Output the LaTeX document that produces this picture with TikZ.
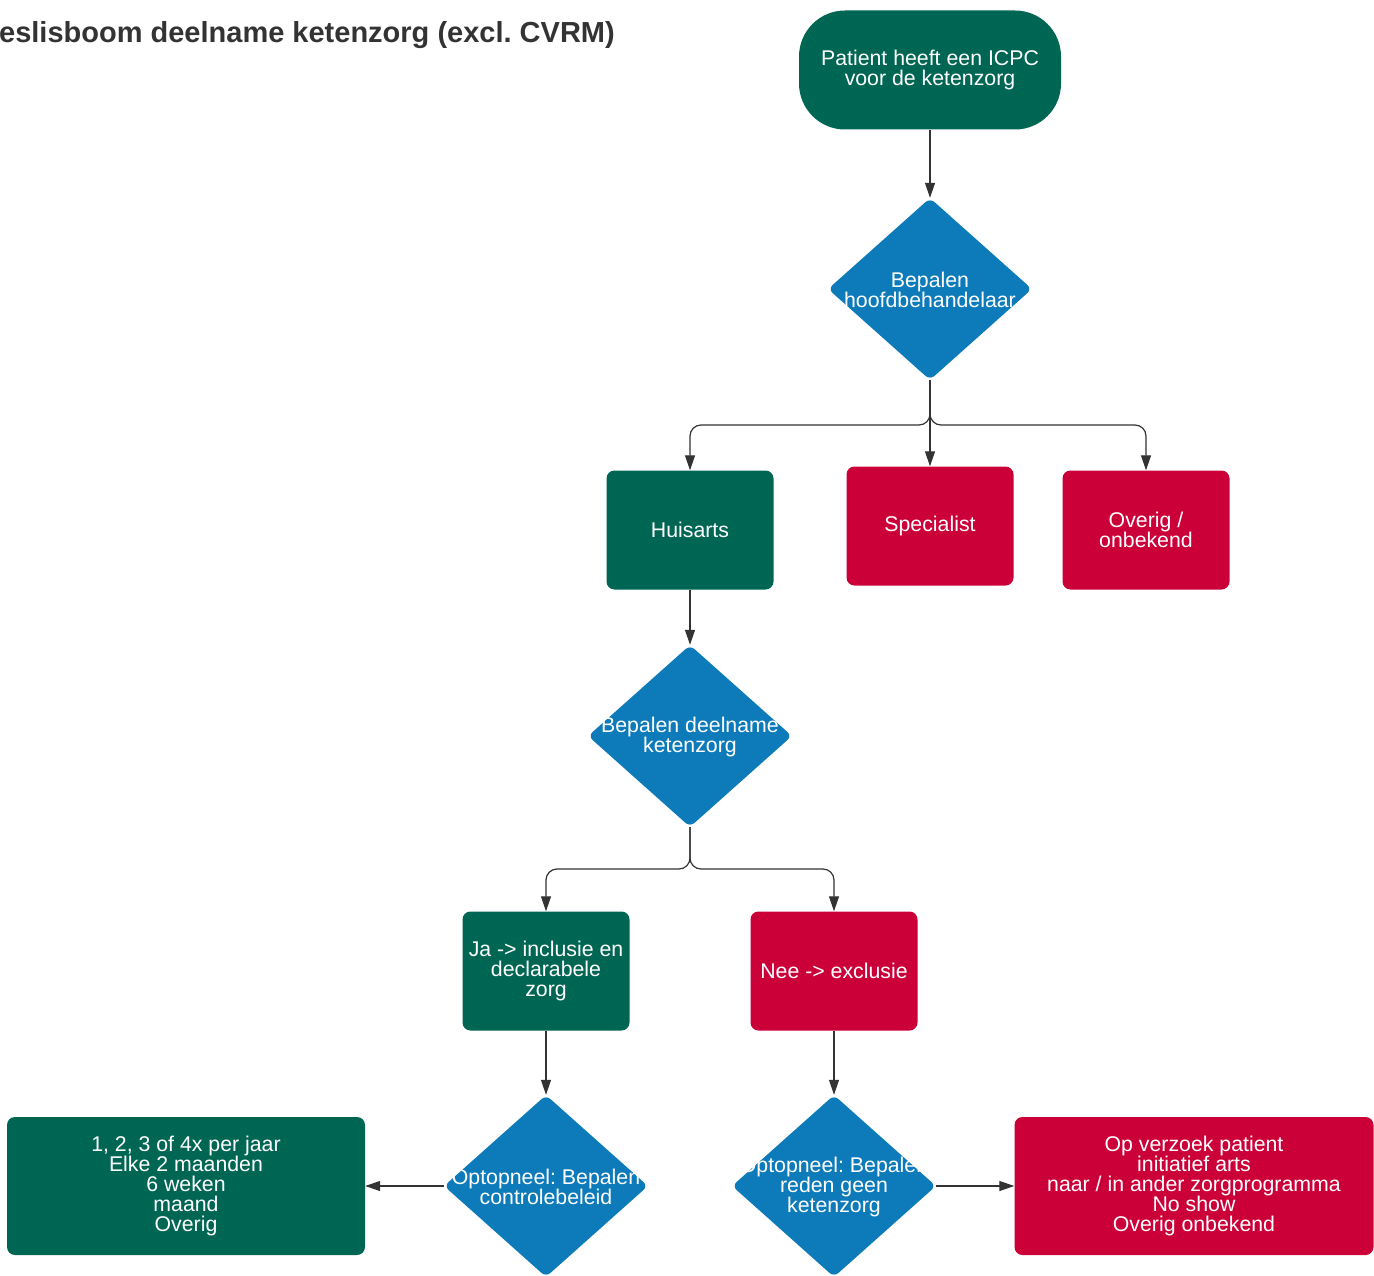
\documentclass[tikz,border=0pt]{standalone}
\usepackage{fontspec}
\setmainfont{Liberation Sans}
\usetikzlibrary{shapes.geometric,arrows.meta}
\definecolor{kgreen}{RGB}{0,102,84}
\definecolor{kred}{RGB}{204,0,56}
\definecolor{kblue}{RGB}{13,123,186}
\definecolor{kline}{RGB}{51,51,51}
\frenchspacing
\begin{document}
\begin{tikzpicture}[x=1pt,y=-1pt,
  lbl/.style={text=white, font=\fontsize{21.3}{20}\selectfont, align=center, inner sep=0pt},
  box/.style={lbl, rectangle, rounded corners=8pt, minimum width=167pt, minimum height=119pt},
  gbox/.style={box, fill=kgreen},
  rbox/.style={box, fill=kred},
  dia/.style={diamond, fill=kblue, minimum width=204pt, minimum height=182pt, inner sep=0pt, rounded corners=6pt},
  arr/.style={draw=kline, line width=1.2pt, -{Triangle[length=15pt,width=10pt]}, rounded corners=11pt}]
\useasboundingbox (0,0) rectangle (1374,1276);

% title (partly outside the page on the left, as in the reference)
\node[anchor=east, inner sep=0pt, text=kline, font=\fontsize{29}{30}\selectfont\bfseries] (title) at (615,35) {Beslisboom deelname ketenzorg (excl. CVRM)};

% start
\node[lbl, fill=kgreen, rectangle, rounded corners=46pt, minimum width=262pt, minimum height=119pt] (start) at (930,70) {Patient heeft een ICPC\\voor de ketenzorg};

% decision 1
\node[dia] (d1) at (930,289) {};
\node[lbl] (t1) at (930,290) {Bepalen\\hoofdbehandelaar};

% level 2
\node[gbox] (huis) at (690,530) {Huisarts};
\node[rbox] (spec) at (930,526) {Specialist};
\node[rbox] (over) at (1146,530) {Overig /\\onbekend};

% decision 2
\node[dia] (d2) at (690,736) {};
\node[lbl] (t2) at (690,737) {Bepalen deelname\\ketenzorg};

% level 3
\node[gbox] (ja) at (546,971) {Ja -> inclusie en\\declarabele\\zorg};
\node[rbox] (nee) at (834,971) {Nee -> exclusie};

% decisions 3 and 4
\node[dia] (d3) at (546,1186) {};
\node[lbl] (t3) at (546,1187) {Optopneel: Bepalen\\controlebeleid};
\node[dia] (d4) at (834,1186) {};
\node[lbl] (t4) at (834,1187) {Optopneel: Bepalen\\reden geen\\ketenzorg};

% end boxes
\node[gbox, minimum width=358pt, minimum height=138pt] (freq) at (186,1186) {1, 2, 3 of 4x per jaar\\Elke 2 maanden\\6 weken\\maand\\Overig};
\node[rbox, minimum width=359pt, minimum height=138pt] (reden) at (1194,1186) {Op verzoek patient\\initiatief arts\\naar / in ander zorgprogramma\\No show\\Overig onbekend};

% connectors
\coordinate (b1) at (930,425);
\coordinate (b2) at (690,869);

\draw[arr] (start.south) -- (d1.north);
\draw[arr] (d1.south) -- (b1) -| (huis.north);
\draw[arr] (d1.south) -- (spec.north);
\draw[arr] (d1.south) -- (b1) -| (over.north);
\draw[arr] (huis.south) -- (d2.north);
\draw[arr] (d2.south) -- (b2) -| (ja.north);
\draw[arr] (d2.south) -- (b2) -| (nee.north);
\draw[arr] (ja.south) -- (d3.north);
\draw[arr] (nee.south) -- (d4.north);
\draw[arr] (d3.west) -- (freq.east);
\draw[arr] (d4.east) -- (reden.west);
\end{tikzpicture}
\end{document}
